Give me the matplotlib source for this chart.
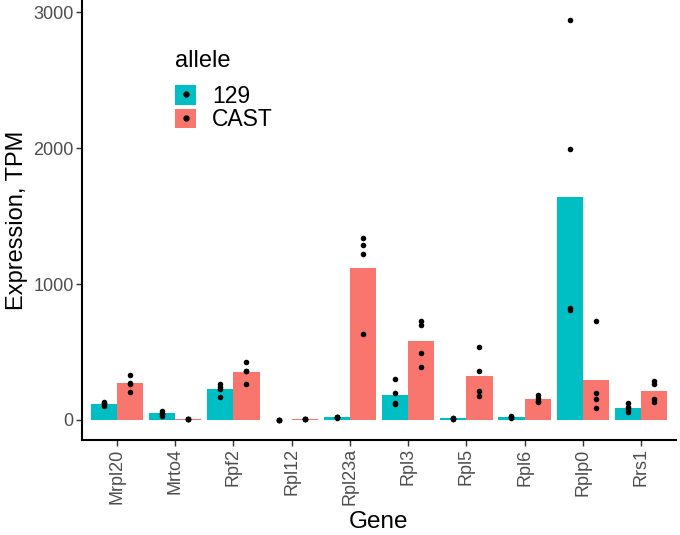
import numpy as np
import matplotlib
matplotlib.use("Agg")
import matplotlib.pyplot as plt
from matplotlib.patches import Patch
from matplotlib.lines import Line2D
from matplotlib.legend_handler import HandlerTuple

plt.rcParams['font.family'] = ['Liberation Sans', 'DejaVu Sans']

genes = ['Mrpl20', 'Mrto4', 'Rpf2', 'Rpl12', 'Rpl23a', 'Rpl3', 'Rpl5', 'Rpl6', 'Rplp0', 'Rrs1']

# replicate TPM values per gene
pts_129 = [
    [135, 125, 115, 105],
    [65, 55, 45, 30],
    [265, 245, 225, 170],
    [0, 0, 0, 0],
    [25, 20, 15, 20],
    [300, 195, 125, 115],
    [15, 10, 5, 15],
    [30, 20, 15, 22],
    [2940, 1990, 820, 810],
    [125, 95, 80, 60],
]
pts_cast = [
    [334, 275, 263, 207],
    [4, 5, 6, 5],
    [430, 362, 360, 262],
    [8, 6, 4, 6],
    [1340, 1290, 1220, 630],
    [730, 700, 490, 390],
    [535, 360, 210, 180],
    [185, 165, 140, 130],
    [730, 197, 153, 91],
    [288, 263, 153, 135],
]

col_129 = '#00BFC4'
col_cast = '#F8766D'

fig = plt.figure(figsize=(6.8, 5.35), dpi=100)
ax = fig.add_axes([0.1206, 0.1776, 0.8734, 0.822])

x = np.arange(1, len(genes) + 1)
w = 0.45
for pts, off, col in [(pts_129, -w / 2, col_129), (pts_cast, w / 2, col_cast)]:
    means = [np.mean(p) for p in pts]
    ax.bar(x + off, means, width=w, color=col, linewidth=0, zorder=2)
    for xi, p in zip(x + off, pts):
        ax.scatter([xi] * len(p), p, s=16, color='black', linewidths=0, zorder=3)

allv = [v for p in pts_129 + pts_cast for v in p]
vmax = max(allv)
ax.set_xlim(0.4, len(genes) + 0.6)
ax.set_ylim(-0.05 * vmax, vmax * 1.05)

ax.set_xticks(x)
ax.set_xticklabels(genes, rotation=90)
ax.set_yticks([0, 1000, 2000, 3000])
ax.tick_params(axis='both', labelsize=13, labelcolor='#4D4D4D', color='#333333',
               length=4, width=1.0, pad=2)

for s in ['top', 'right']:
    ax.spines[s].set_visible(False)
for s in ['left', 'bottom']:
    ax.spines[s].set_linewidth(1.5)
    ax.spines[s].set_color('black')

ax.set_xlabel('Gene', fontsize=17.5, labelpad=4)
ax.set_ylabel('Expression, TPM', fontsize=17, labelpad=4)

dot = Line2D([], [], marker='o', color='black', linestyle='none', markersize=3.5)
handles = [(Patch(facecolor=col_129, edgecolor='none'), dot),
           (Patch(facecolor=col_cast, edgecolor='none'), dot)]
leg = ax.legend(handles, ['129', 'CAST'], title='allele', fontsize=16.5, title_fontsize=17,
                handler_map={tuple: HandlerTuple(ndivide=1, pad=0)},
                frameon=False, loc='upper left', bbox_to_anchor=(0.138, 0.912),
                handlelength=0.9, handleheight=0.92, labelspacing=0.02,
                handletextpad=0.7, borderpad=0)
leg._legend_box.align = 'left'
leg._legend_box.sep = 9

fig.savefig('out.png', dpi=100)
